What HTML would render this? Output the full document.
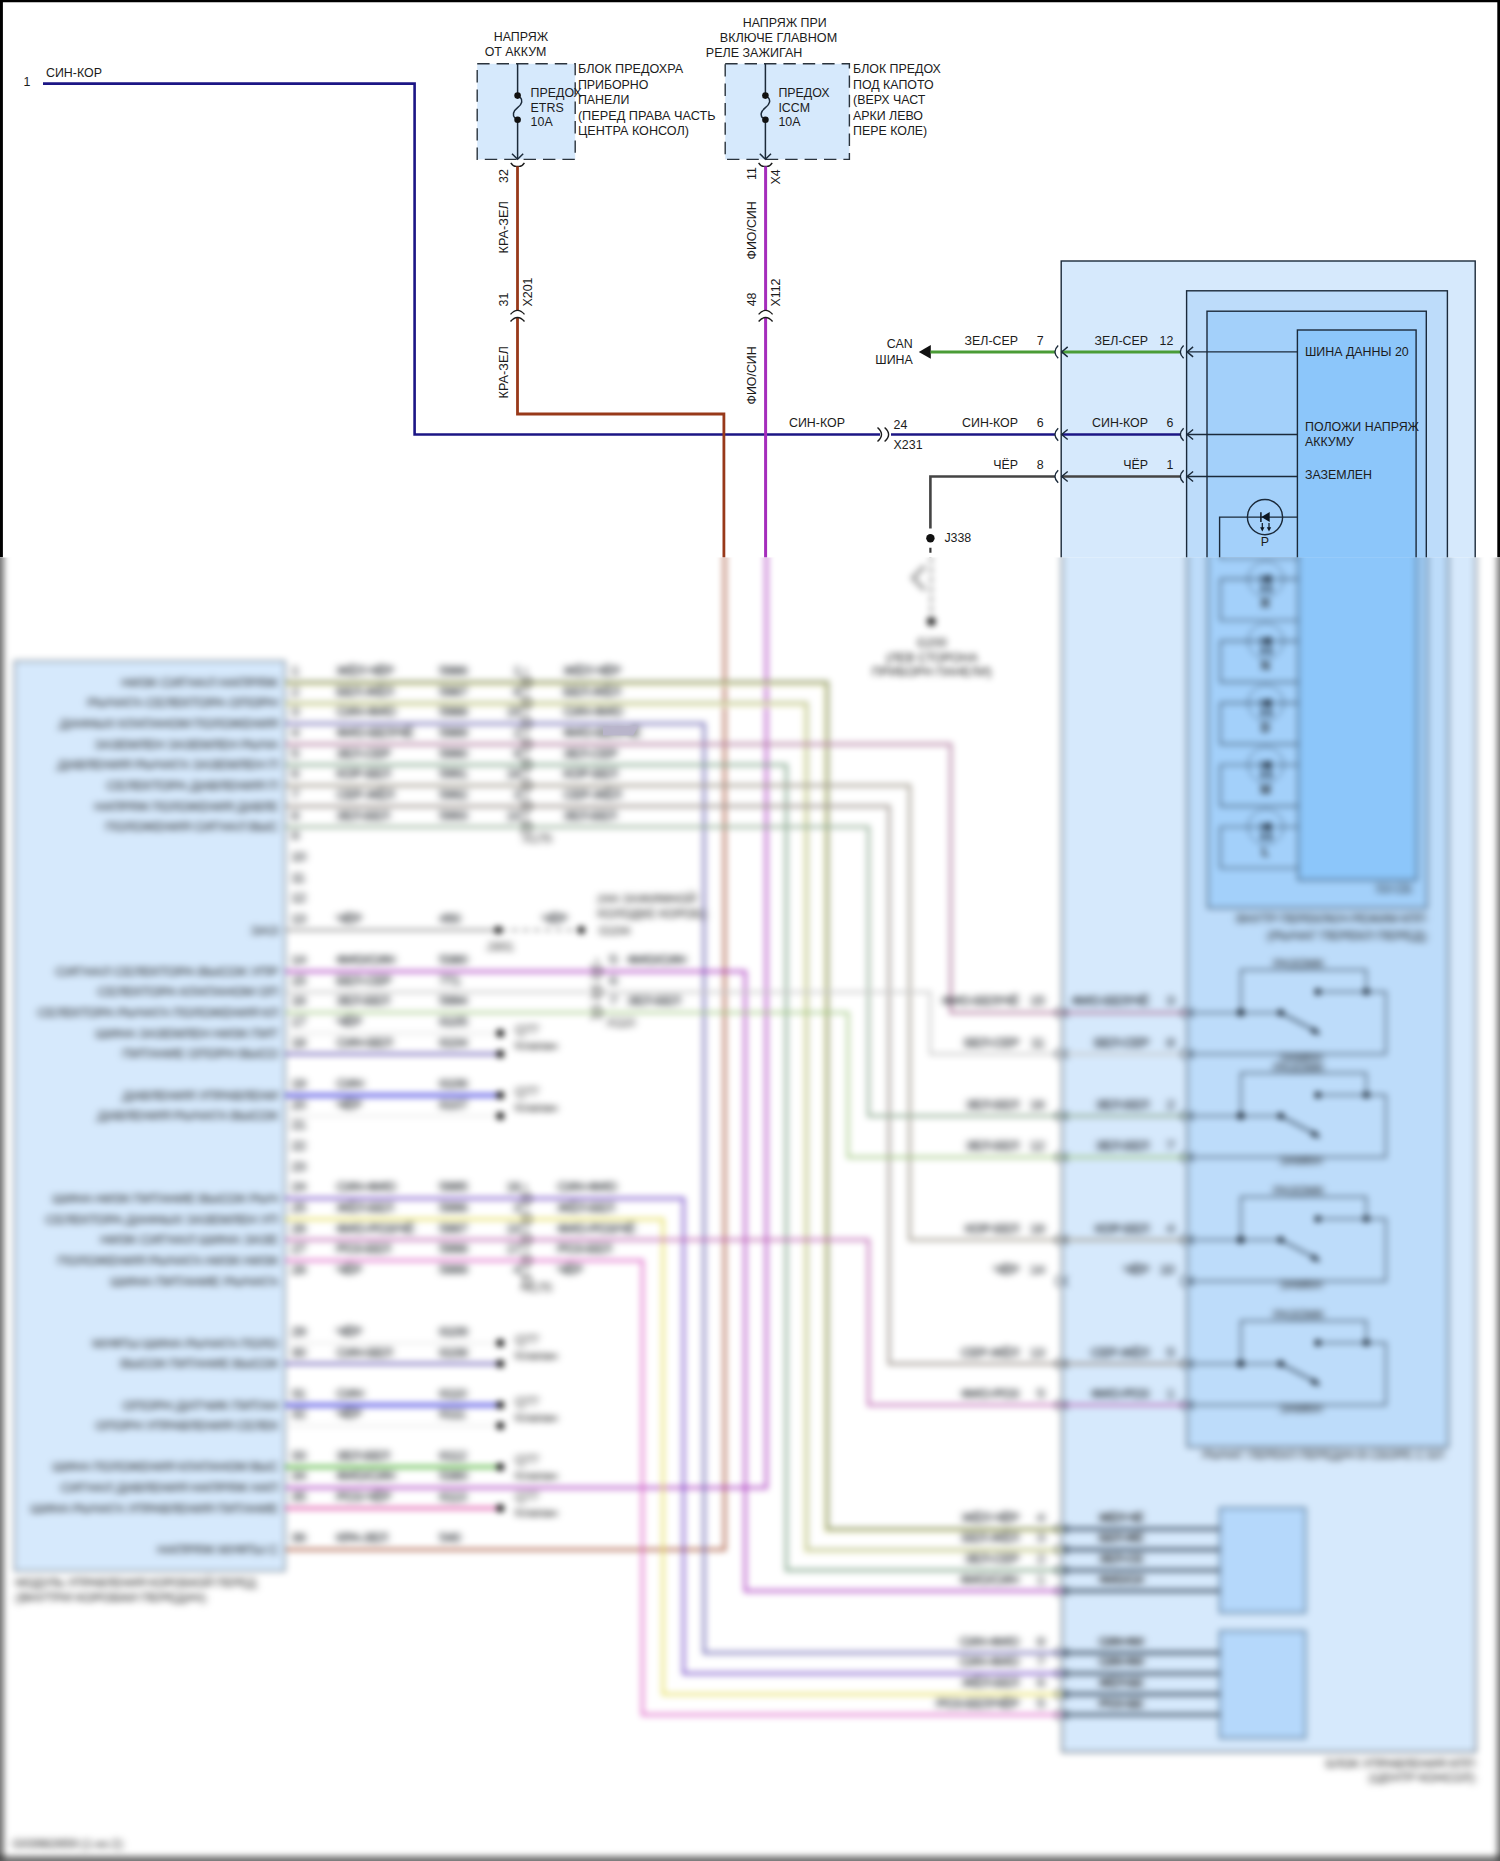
<!DOCTYPE html>
<html lang="ru">
<head>
<meta charset="utf-8">
<title>Схема</title>
<style>
html,body{margin:0;padding:0;background:#fff;}
svg{display:block;}
.lb{fill:#1c2026;stroke:#1c2026;stroke-width:.35px}
text{font-family:"Liberation Sans",Arial,sans-serif;font-size:12.4px;fill:#1c1c1c;}
</style>
</head>
<body>
<svg width="1500" height="1861" viewBox="0 0 1500 1861">
<defs>
<filter id="bl" filterUnits="userSpaceOnUse" x="-60" y="-60" width="1620" height="1981" color-interpolation-filters="sRGB"><feGaussianBlur stdDeviation="3.3"/></filter>
<filter id="tb" filterUnits="userSpaceOnUse" x="0" y="540" width="1500" height="1321" color-interpolation-filters="sRGB"><feGaussianBlur stdDeviation="2.4 1.2"/></filter>
<clipPath id="ct"><rect x="0" y="0" width="1500" height="557.6"/></clipPath>
<clipPath id="cb"><rect x="0" y="557.6" width="1500" height="1303.4"/></clipPath>
<g id="all">
<rect x="1061.2" y="261" width="414.0" height="1491" fill="#d6e9fc" fill-opacity="1" stroke="#1b2a3a" stroke-width="1.4"/>
<rect x="1186.6" y="290.8" width="260.8" height="1156.2" fill="#bddcfa" fill-opacity="1" stroke="#1b2a3a" stroke-width="1.4"/>
<rect x="1207" y="311.2" width="219.3" height="596.8" fill="#a3d0fa" fill-opacity="1" stroke="#1b2a3a" stroke-width="1.4"/>
<rect x="1297.4" y="330" width="118.7" height="550" fill="#8cc6fa" fill-opacity="1" stroke="#1b2a3a" stroke-width="1.4"/>
<text x="23.6" y="86.2">1</text>
<text x="46" y="76.6">СИН-КОР</text>
<path d="M43,83.6 L414.6,83.6 L414.6,434.5 L880,434.5" stroke="#1c1685" stroke-width="2.6" fill="none" stroke-linejoin="miter"/>
<path d="M891,434.5 L1055,434.5" stroke="#1c1685" stroke-width="2.6" fill="none" stroke-linejoin="miter"/>
<path d="M1062,434.5 L1180,434.5" stroke="#1c1685" stroke-width="2.6" fill="none" stroke-linejoin="miter"/>
<rect x="477.2" y="63.8" width="98.00000000000006" height="95.60000000000001" fill="#d6e9fc" fill-opacity="1" stroke="#2a333c" stroke-width="1.4" stroke-dasharray="12.4 7"/>
<path d="M517.6,63.8 L517.6,95.6" stroke="#1b2a3a" stroke-width="1.5" fill="none" stroke-linejoin="miter"/>
<path d="M517.6,119.6 L517.6,158.9" stroke="#1b2a3a" stroke-width="1.5" fill="none" stroke-linejoin="miter"/>
<path d="M520.2,97.3 C522.9,100 522.4,104 517.6,107.7 C512.8000000000001,111.4 512.3000000000001,115.4 515.0,118.1" stroke="#1b2a3a" stroke-width="1.5" fill="none"/>
<circle cx="517.6" cy="95.6" r="3.3" fill="#111"/>
<circle cx="517.6" cy="119.7" r="3.3" fill="#111"/>
<path d="M512.0,153.8 L517.6,159.3 L523.2,153.8" stroke="#1b2a3a" stroke-width="1.5" fill="none"/>
<path d="M510.8,162.8 Q513.1,166.4 516.1,166.4 L519.1,166.4 Q522.1,166.4 524.4,162.8" stroke="#1c1c1c" stroke-width="1.4" fill="none"/>
<text x="530.6" y="97">ПРЕДОХ</text>
<text x="530.6" y="112.2">ETRS</text>
<text x="530.6" y="126">10A</text>
<rect x="725.2" y="63.8" width="124.19999999999993" height="95.60000000000001" fill="#d6e9fc" fill-opacity="1" stroke="#2a333c" stroke-width="1.4" stroke-dasharray="12.4 7"/>
<path d="M765.4,63.8 L765.4,95.6" stroke="#1b2a3a" stroke-width="1.5" fill="none" stroke-linejoin="miter"/>
<path d="M765.4,119.6 L765.4,158.9" stroke="#1b2a3a" stroke-width="1.5" fill="none" stroke-linejoin="miter"/>
<path d="M768.0,97.3 C770.6999999999999,100 770.1999999999999,104 765.4,107.7 C760.6,111.4 760.1,115.4 762.8,118.1" stroke="#1b2a3a" stroke-width="1.5" fill="none"/>
<circle cx="765.4" cy="95.6" r="3.3" fill="#111"/>
<circle cx="765.4" cy="119.7" r="3.3" fill="#111"/>
<path d="M759.8,153.8 L765.4,159.3 L771.0,153.8" stroke="#1b2a3a" stroke-width="1.5" fill="none"/>
<path d="M758.6,162.8 Q760.9,166.4 763.9,166.4 L766.9,166.4 Q769.9,166.4 772.1999999999999,162.8" stroke="#1c1c1c" stroke-width="1.4" fill="none"/>
<text x="778.4" y="97">ПРЕДОХ</text>
<text x="778.4" y="112.2">ICCM</text>
<text x="778.4" y="126">10A</text>
<text x="493.8" y="40.8">НАПРЯЖ</text>
<text x="484.7" y="56.2">ОТ АККУМ</text>
<text x="577.9" y="73.1" textLength="105.3" lengthAdjust="spacingAndGlyphs">БЛОК ПРЕДОХРА</text>
<text x="577.9" y="88.6">ПРИБОРНО</text>
<text x="577.9" y="104.1">ПАНЕЛИ</text>
<text x="577.9" y="119.6" textLength="137.7" lengthAdjust="spacingAndGlyphs">(ПЕРЕД ПРАВА ЧАСТЬ</text>
<text x="577.9" y="135.1" textLength="111.1" lengthAdjust="spacingAndGlyphs">ЦЕНТРА КОНСОЛ)</text>
<text x="742.8" y="26.9">НАПРЯЖ ПРИ</text>
<text x="719.8" y="41.7" textLength="117.4" lengthAdjust="spacingAndGlyphs">ВКЛЮЧЕ ГЛАВНОМ</text>
<text x="705.8" y="57.3" textLength="96.5" lengthAdjust="spacingAndGlyphs">РЕЛЕ ЗАЖИГАН</text>
<text x="853" y="73.1">БЛОК ПРЕДОХ</text>
<text x="853" y="88.6">ПОД КАПОТО</text>
<text x="853" y="104.1">(ВЕРХ ЧАСТ</text>
<text x="853" y="119.6">АРКИ ЛЕВО</text>
<text x="853" y="135.1">ПЕРЕ КОЛЕ)</text>
<path d="M517.5,166.4 L517.5,311" stroke="#98391a" stroke-width="2.8" fill="none" stroke-linejoin="miter"/>
<path d="M517.5,317.6 L517.5,414 L723.9,414 L723.9,1549.6 L285,1549.6" stroke="#98391a" stroke-width="2.8" fill="none" stroke-linejoin="miter"/>
<path d="M510.5,314.4 Q517.5,306.4 524.5,314.4" stroke="#1c1c1c" stroke-width="1.4" fill="none"/>
<path d="M510.5,321.5 Q517.5,313.5 524.5,321.5" stroke="#1c1c1c" stroke-width="1.4" fill="none"/>
<text x="508.4" y="183" transform="rotate(-90 508.4 183)">32</text>
<text x="508.4" y="253.5" textLength="52.3" lengthAdjust="spacingAndGlyphs" transform="rotate(-90 508.4 253.5)">КРА-ЗЕЛ</text>
<text x="508.4" y="306.5" transform="rotate(-90 508.4 306.5)">31</text>
<text x="531.8" y="306.5" transform="rotate(-90 531.8 306.5)">X201</text>
<text x="508.4" y="398.5" textLength="52.3" lengthAdjust="spacingAndGlyphs" transform="rotate(-90 508.4 398.5)">КРА-ЗЕЛ</text>
<path d="M765.6,166.4 L765.6,311" stroke="#a52dbc" stroke-width="3.0" fill="none" stroke-linejoin="miter"/>
<path d="M765.6,317.6 L765.6,1487.65 L285,1487.65" stroke="#a52dbc" stroke-width="3.0" fill="none" stroke-linejoin="miter"/>
<path d="M758.6,314.4 Q765.6,306.4 772.6,314.4" stroke="#1c1c1c" stroke-width="1.4" fill="none"/>
<path d="M758.6,321.5 Q765.6,313.5 772.6,321.5" stroke="#1c1c1c" stroke-width="1.4" fill="none"/>
<text x="756.4" y="180" transform="rotate(-90 756.4 180)">11</text>
<text x="779.6" y="184.5" transform="rotate(-90 779.6 184.5)">X4</text>
<text x="756.4" y="259.5" transform="rotate(-90 756.4 259.5)">ФИО/СИН</text>
<text x="756.4" y="306.3" transform="rotate(-90 756.4 306.3)">48</text>
<text x="779.6" y="306.5" transform="rotate(-90 779.6 306.5)">X112</text>
<text x="756.4" y="404.5" transform="rotate(-90 756.4 404.5)">ФИО/СИН</text>
<text x="789" y="427">СИН-КОР</text>
<path d="M877.5,427.5 Q885.5,434.5 877.5,441.5" stroke="#1c1c1c" stroke-width="1.4" fill="none"/>
<path d="M884.6,427.5 Q892.6,434.5 884.6,441.5" stroke="#1c1c1c" stroke-width="1.4" fill="none"/>
<text x="893.6" y="428.6">24</text>
<text x="893.6" y="449">X231</text>
<text x="912.8" y="348.2" text-anchor="end">CAN</text>
<text x="912.8" y="363.8" text-anchor="end">ШИНА</text>
<path d="M918.8,351.9 L930.8,345.1 L930.8,358.7 Z" fill="#111"/>
<path d="M930.5,351.9 L1055,351.9" stroke="#4a9c36" stroke-width="3.0" fill="none" stroke-linejoin="miter"/>
<path d="M1062,351.9 L1180,351.9" stroke="#4a9c36" stroke-width="3.0" fill="none" stroke-linejoin="miter"/>
<path d="M1055,476.5 L930.4,476.5 L930.4,528.5" stroke="#444444" stroke-width="2.6" fill="none" stroke-linejoin="miter"/>
<path d="M1062,476.5 L1180,476.5" stroke="#444444" stroke-width="2.6" fill="none" stroke-linejoin="miter"/>
<circle cx="930.4" cy="538.2" r="4.2" fill="#111"/>
<text x="944.4" y="541.6">J338</text>
<path d="M930.4,547.8 L930.4,614" stroke="#3a3a3a" stroke-width="2.2" fill="none" stroke-linejoin="miter" stroke-dasharray="5 4.8"/>
<path d="M924,566 L912,578 L924,590" stroke="#888" stroke-width="4" fill="none"/>
<circle cx="930.5" cy="621.5" r="4.4" fill="#111"/>
<text x="931" y="646.5" text-anchor="middle">G200</text>
<text x="931" y="661.5" text-anchor="middle">(ЛЕВ СТОРОНА</text>
<text x="931" y="676" text-anchor="middle">ПРИБОРН ПАНЕЛИ)</text>
<text x="1018" y="344.5" text-anchor="end">ЗЕЛ-СЕР</text>
<text x="1043.6" y="344.5" text-anchor="end">7</text>
<text x="1148" y="344.5" text-anchor="end">ЗЕЛ-СЕР</text>
<text x="1173.4" y="344.5" text-anchor="end">12</text>
<path d="M1058.2,345.59999999999997 Q1051.7,351.9 1058.2,358.2" stroke="#1b2a3a" stroke-width="1.4" fill="none"/>
<path d="M1067.7,346.9 L1061.7,351.9 L1067.7,356.9" stroke="#1b2a3a" stroke-width="1.4" fill="none"/>
<path d="M1183.6,345.59999999999997 Q1177.1,351.9 1183.6,358.2" stroke="#1b2a3a" stroke-width="1.4" fill="none"/>
<path d="M1193.1,346.9 L1187.1,351.9 L1193.1,356.9" stroke="#1b2a3a" stroke-width="1.4" fill="none"/>
<path d="M1187.5,351.9 L1297.4,351.9" stroke="#1b2a3a" stroke-width="1.4" fill="none" stroke-linejoin="miter"/>
<text x="1018" y="427.1" text-anchor="end">СИН-КОР</text>
<text x="1043.6" y="427.1" text-anchor="end">6</text>
<text x="1148" y="427.1" text-anchor="end">СИН-КОР</text>
<text x="1173.4" y="427.1" text-anchor="end">6</text>
<path d="M1058.2,428.2 Q1051.7,434.5 1058.2,440.8" stroke="#1b2a3a" stroke-width="1.4" fill="none"/>
<path d="M1067.7,429.5 L1061.7,434.5 L1067.7,439.5" stroke="#1b2a3a" stroke-width="1.4" fill="none"/>
<path d="M1183.6,428.2 Q1177.1,434.5 1183.6,440.8" stroke="#1b2a3a" stroke-width="1.4" fill="none"/>
<path d="M1193.1,429.5 L1187.1,434.5 L1193.1,439.5" stroke="#1b2a3a" stroke-width="1.4" fill="none"/>
<path d="M1187.5,434.5 L1297.4,434.5" stroke="#1b2a3a" stroke-width="1.4" fill="none" stroke-linejoin="miter"/>
<text x="1018" y="469.1" text-anchor="end">ЧЁР</text>
<text x="1043.6" y="469.1" text-anchor="end">8</text>
<text x="1148" y="469.1" text-anchor="end">ЧЁР</text>
<text x="1173.4" y="469.1" text-anchor="end">1</text>
<path d="M1058.2,470.2 Q1051.7,476.5 1058.2,482.8" stroke="#1b2a3a" stroke-width="1.4" fill="none"/>
<path d="M1067.7,471.5 L1061.7,476.5 L1067.7,481.5" stroke="#1b2a3a" stroke-width="1.4" fill="none"/>
<path d="M1183.6,470.2 Q1177.1,476.5 1183.6,482.8" stroke="#1b2a3a" stroke-width="1.4" fill="none"/>
<path d="M1193.1,471.5 L1187.1,476.5 L1193.1,481.5" stroke="#1b2a3a" stroke-width="1.4" fill="none"/>
<path d="M1187.5,476.5 L1297.4,476.5" stroke="#1b2a3a" stroke-width="1.4" fill="none" stroke-linejoin="miter"/>
<text x="1305" y="355.5">ШИНА ДАННЫ 20</text>
<text x="1305" y="430.6">ПОЛОЖИ НАПРЯЖ</text>
<text x="1305" y="446.2">АККУМУ</text>
<text x="1305" y="479.4">ЗАЗЕМЛЕН</text>
<path d="M1297.4,517.1 L1219.6,517.1 L1219.6,558.4 L1297.4,558.4" stroke="#1b2a3a" stroke-width="1.4" fill="none" stroke-linejoin="miter"/>
<circle cx="1265" cy="517.1" r="17.6" fill="none" stroke="#1b2a3a" stroke-width="1.4"/>
<path d="M1260.9,512.2 L1260.9,522.0" stroke="#0c1622" stroke-width="1.5" fill="none" stroke-linejoin="miter"/>
<path d="M1261.4,517.1 L1269.7,512.1 L1269.7,522.1 Z" fill="#0c1622"/>
<path d="M1262.3,523.1 L1262.3,528.1" stroke="#0c1622" stroke-width="1.2" fill="none" stroke-linejoin="miter"/>
<path d="M1260.1,527.3000000000001 L1264.5,527.3000000000001 L1262.3,531.5 Z" fill="#0c1622"/>
<path d="M1269,523.1 L1269,528.1" stroke="#0c1622" stroke-width="1.2" fill="none" stroke-linejoin="miter"/>
<path d="M1266.8,527.3000000000001 L1271.2,527.3000000000001 L1269,531.5 Z" fill="#0c1622"/>
<text x="1264.8" y="546.3" text-anchor="middle">P</text>
<path d="M1297.4,579.05 L1219.6,579.05 L1219.6,620.35 L1297.4,620.35" stroke="#1b2a3a" stroke-width="1.4" fill="none" stroke-linejoin="miter"/>
<circle cx="1265" cy="579.05" r="17.6" fill="none" stroke="#1b2a3a" stroke-width="0.9"/>
<path d="M1260.9,574.15 L1260.9,583.9499999999999" stroke="#0c1622" stroke-width="1.5" fill="none" stroke-linejoin="miter"/>
<path d="M1261.4,579.05 L1269.7,574.05 L1269.7,584.05 Z" fill="#0c1622"/>
<path d="M1262.3,585.05 L1262.3,590.05" stroke="#0c1622" stroke-width="3.2" fill="none" stroke-linejoin="miter"/>
<path d="M1260.1,589.25 L1264.5,589.25 L1262.3,593.4499999999999 Z" fill="#0c1622"/>
<path d="M1269,585.05 L1269,590.05" stroke="#0c1622" stroke-width="3.2" fill="none" stroke-linejoin="miter"/>
<path d="M1266.8,589.25 L1271.2,589.25 L1269,593.4499999999999 Z" fill="#0c1622"/>
<text x="1264.8" y="608.2" text-anchor="middle" font-weight="bold" font-size="14">R</text>
<path d="M1297.4,641.0 L1219.6,641.0 L1219.6,682.3 L1297.4,682.3" stroke="#1b2a3a" stroke-width="1.4" fill="none" stroke-linejoin="miter"/>
<circle cx="1265" cy="641.0" r="17.6" fill="none" stroke="#1b2a3a" stroke-width="0.9"/>
<path d="M1260.9,636.1 L1260.9,645.9" stroke="#0c1622" stroke-width="1.5" fill="none" stroke-linejoin="miter"/>
<path d="M1261.4,641.0 L1269.7,636.0 L1269.7,646.0 Z" fill="#0c1622"/>
<path d="M1262.3,647.0 L1262.3,652.0" stroke="#0c1622" stroke-width="3.2" fill="none" stroke-linejoin="miter"/>
<path d="M1260.1,651.2 L1264.5,651.2 L1262.3,655.4 Z" fill="#0c1622"/>
<path d="M1269,647.0 L1269,652.0" stroke="#0c1622" stroke-width="3.2" fill="none" stroke-linejoin="miter"/>
<path d="M1266.8,651.2 L1271.2,651.2 L1269,655.4 Z" fill="#0c1622"/>
<text x="1264.8" y="670.2" text-anchor="middle" font-weight="bold" font-size="14">N</text>
<path d="M1297.4,702.95 L1219.6,702.95 L1219.6,744.25 L1297.4,744.25" stroke="#1b2a3a" stroke-width="1.4" fill="none" stroke-linejoin="miter"/>
<circle cx="1265" cy="702.95" r="17.6" fill="none" stroke="#1b2a3a" stroke-width="0.9"/>
<path d="M1260.9,698.0500000000001 L1260.9,707.85" stroke="#0c1622" stroke-width="1.5" fill="none" stroke-linejoin="miter"/>
<path d="M1261.4,702.95 L1269.7,697.95 L1269.7,707.95 Z" fill="#0c1622"/>
<path d="M1262.3,708.95 L1262.3,713.95" stroke="#0c1622" stroke-width="3.2" fill="none" stroke-linejoin="miter"/>
<path d="M1260.1,713.1500000000001 L1264.5,713.1500000000001 L1262.3,717.35 Z" fill="#0c1622"/>
<path d="M1269,708.95 L1269,713.95" stroke="#0c1622" stroke-width="3.2" fill="none" stroke-linejoin="miter"/>
<path d="M1266.8,713.1500000000001 L1271.2,713.1500000000001 L1269,717.35 Z" fill="#0c1622"/>
<text x="1264.8" y="732.2" text-anchor="middle" font-weight="bold" font-size="14">D</text>
<path d="M1297.4,764.9 L1219.6,764.9 L1219.6,806.2 L1297.4,806.2" stroke="#1b2a3a" stroke-width="1.4" fill="none" stroke-linejoin="miter"/>
<circle cx="1265" cy="764.9" r="17.6" fill="none" stroke="#1b2a3a" stroke-width="0.9"/>
<path d="M1260.9,760.0 L1260.9,769.8" stroke="#0c1622" stroke-width="1.5" fill="none" stroke-linejoin="miter"/>
<path d="M1261.4,764.9 L1269.7,759.9 L1269.7,769.9 Z" fill="#0c1622"/>
<path d="M1262.3,770.9 L1262.3,775.9" stroke="#0c1622" stroke-width="3.2" fill="none" stroke-linejoin="miter"/>
<path d="M1260.1,775.1 L1264.5,775.1 L1262.3,779.3 Z" fill="#0c1622"/>
<path d="M1269,770.9 L1269,775.9" stroke="#0c1622" stroke-width="3.2" fill="none" stroke-linejoin="miter"/>
<path d="M1266.8,775.1 L1271.2,775.1 L1269,779.3 Z" fill="#0c1622"/>
<text x="1264.8" y="794.1" text-anchor="middle" font-weight="bold" font-size="14">M</text>
<path d="M1297.4,826.85 L1219.6,826.85 L1219.6,868.15 L1297.4,868.15" stroke="#1b2a3a" stroke-width="1.4" fill="none" stroke-linejoin="miter"/>
<circle cx="1265" cy="826.85" r="17.6" fill="none" stroke="#1b2a3a" stroke-width="0.9"/>
<path d="M1260.9,821.95 L1260.9,831.75" stroke="#0c1622" stroke-width="1.5" fill="none" stroke-linejoin="miter"/>
<path d="M1261.4,826.85 L1269.7,821.85 L1269.7,831.85 Z" fill="#0c1622"/>
<path d="M1262.3,832.85 L1262.3,837.85" stroke="#0c1622" stroke-width="3.2" fill="none" stroke-linejoin="miter"/>
<path d="M1260.1,837.0500000000001 L1264.5,837.0500000000001 L1262.3,841.25 Z" fill="#0c1622"/>
<path d="M1269,832.85 L1269,837.85" stroke="#0c1622" stroke-width="3.2" fill="none" stroke-linejoin="miter"/>
<path d="M1266.8,837.0500000000001 L1271.2,837.0500000000001 L1269,841.25 Z" fill="#0c1622"/>
<text x="1264.8" y="856.1" text-anchor="middle" font-weight="bold" font-size="14">L</text>
<rect x="13.7" y="661" width="270.5" height="910" fill="#d6e9fc" fill-opacity="1" stroke="#5a6a7a" stroke-width="1.6"/>
<path d="M284.2,683.8 L825.15,683.8 L825.15,1530.45 L1061.2,1530.45" stroke="#f4f4cc" stroke-width="5.5" fill="none" stroke-linejoin="miter"/>
<path d="M284.2,682.3 L826.65,682.3 L826.65,1528.95 L1061.2,1528.95" stroke="#8a9262" stroke-width="3.4" fill="none" stroke-linejoin="miter"/>
<path d="M519.5,675.3 Q527.5,682.3 519.5,689.3" stroke="#1c1c1c" stroke-width="1.4" fill="none"/>
<path d="M526.6,675.3 Q534.6,682.3 526.6,689.3" stroke="#1c1c1c" stroke-width="1.4" fill="none"/>
<path d="M284.2,704.45 L804.6,704.45 L804.6,1551.1 L1061.2,1551.1" stroke="#f6f6d8" stroke-width="5.5" fill="none" stroke-linejoin="miter"/>
<path d="M284.2,702.95 L806.1,702.95 L806.1,1549.6 L1061.2,1549.6" stroke="#b9bf89" stroke-width="3.4" fill="none" stroke-linejoin="miter"/>
<path d="M519.5,695.95 Q527.5,702.95 519.5,709.95" stroke="#1c1c1c" stroke-width="1.4" fill="none"/>
<path d="M526.6,695.95 Q534.6,702.95 526.6,709.95" stroke="#1c1c1c" stroke-width="1.4" fill="none"/>
<path d="M284.2,723.6 L703.35,723.6 L703.35,1652.85 L1061.2,1652.85" stroke="#6e68b3" stroke-width="3.4" fill="none" stroke-linejoin="miter"/>
<path d="M519.5,716.6 Q527.5,723.6 519.5,730.6" stroke="#1c1c1c" stroke-width="1.4" fill="none"/>
<path d="M526.6,716.6 Q534.6,723.6 526.6,730.6" stroke="#1c1c1c" stroke-width="1.4" fill="none"/>
<path d="M284.2,744.25 L949.95,744.25 L949.95,1012.7 L1186.6,1012.7" stroke="#b380a1" stroke-width="3.4" fill="none" stroke-linejoin="miter"/>
<path d="M519.5,737.25 Q527.5,744.25 519.5,751.25" stroke="#1c1c1c" stroke-width="1.4" fill="none"/>
<path d="M526.6,737.25 Q534.6,744.25 526.6,751.25" stroke="#1c1c1c" stroke-width="1.4" fill="none"/>
<path d="M284.2,764.9 L785.55,764.9 L785.55,1570.25 L1061.2,1570.25" stroke="#80a489" stroke-width="3.4" fill="none" stroke-linejoin="miter"/>
<path d="M519.5,757.9 Q527.5,764.9 519.5,771.9" stroke="#1c1c1c" stroke-width="1.4" fill="none"/>
<path d="M526.6,757.9 Q534.6,764.9 526.6,771.9" stroke="#1c1c1c" stroke-width="1.4" fill="none"/>
<path d="M284.2,785.55 L908.85,785.55 L908.85,1239.85 L1186.6,1239.85" stroke="#a19b8f" stroke-width="3.4" fill="none" stroke-linejoin="miter"/>
<path d="M519.5,778.55 Q527.5,785.55 519.5,792.55" stroke="#1c1c1c" stroke-width="1.4" fill="none"/>
<path d="M526.6,778.55 Q534.6,785.55 526.6,792.55" stroke="#1c1c1c" stroke-width="1.4" fill="none"/>
<path d="M284.2,806.2 L888.3,806.2 L888.3,1363.75 L1186.6,1363.75" stroke="#9e958f" stroke-width="3.4" fill="none" stroke-linejoin="miter"/>
<path d="M519.5,799.2 Q527.5,806.2 519.5,813.2" stroke="#1c1c1c" stroke-width="1.4" fill="none"/>
<path d="M526.6,799.2 Q534.6,806.2 526.6,813.2" stroke="#1c1c1c" stroke-width="1.4" fill="none"/>
<path d="M284.2,826.85 L867.75,826.85 L867.75,1115.95 L1186.6,1115.95" stroke="#92ad95" stroke-width="3.4" fill="none" stroke-linejoin="miter"/>
<path d="M519.5,819.85 Q527.5,826.85 519.5,833.85" stroke="#1c1c1c" stroke-width="1.4" fill="none"/>
<path d="M526.6,819.85 Q534.6,826.85 526.6,833.85" stroke="#1c1c1c" stroke-width="1.4" fill="none"/>
<path d="M525.5,668 L525.5,832" stroke="#333" stroke-width="1.5" fill="none" stroke-linejoin="miter" stroke-dasharray="5 4"/>
<path d="M284.2,930.1 L496.5,930.1" stroke="#8a8a8a" stroke-width="2.8" fill="none" stroke-linejoin="miter"/>
<path d="M500,930.1 L580,930.1" stroke="#555" stroke-width="1.6" fill="none" stroke-linejoin="miter" stroke-dasharray="6 5"/>
<circle cx="497.5" cy="930.1" r="3.8" fill="#111"/>
<circle cx="580.5" cy="930.1" r="3.8" fill="#111"/>
<path d="M284.2,971.4 L744.45,971.4 L744.45,1590.9 L1061.2,1590.9" stroke="#a52dbc" stroke-width="3.0" fill="none" stroke-linejoin="miter"/>
<path d="M284.2,992.05 L929.4,992.05 L929.4,1054.0 L1186.6,1054.0" stroke="#c4c4c4" stroke-width="2.8" fill="none" stroke-linejoin="miter"/>
<path d="M284.2,1012.7 L847.2,1012.7 L847.2,1157.25 L1186.6,1157.25" stroke="#9ec57d" stroke-width="2.8" fill="none" stroke-linejoin="miter"/>
<path d="M284.2,1033.35 L496,1033.35" stroke="#dddddd" stroke-width="2" fill="none" stroke-linejoin="miter"/>
<path d="M284.2,1054.0 L496,1054.0" stroke="#5546aa" stroke-width="2.8" fill="none" stroke-linejoin="miter"/>
<path d="M590,964.4 Q598,971.4 590,978.4" stroke="#1c1c1c" stroke-width="1.4" fill="none"/>
<path d="M597.1,964.4 Q605.1,971.4 597.1,978.4" stroke="#1c1c1c" stroke-width="1.4" fill="none"/>
<path d="M590,985.05 Q598,992.05 590,999.05" stroke="#1c1c1c" stroke-width="1.4" fill="none"/>
<path d="M597.1,985.05 Q605.1,992.05 597.1,999.05" stroke="#1c1c1c" stroke-width="1.4" fill="none"/>
<path d="M590,1005.7 Q598,1012.7 590,1019.7" stroke="#1c1c1c" stroke-width="1.4" fill="none"/>
<path d="M597.1,1005.7 Q605.1,1012.7 597.1,1019.7" stroke="#1c1c1c" stroke-width="1.4" fill="none"/>
<path d="M596,958 L596,1016" stroke="#333" stroke-width="1.5" fill="none" stroke-linejoin="miter" stroke-dasharray="5 4"/>
<circle cx="499.5" cy="1033.35" r="4" fill="#111"/>
<circle cx="499.5" cy="1054.0" r="4" fill="#111"/>
<path d="M284.2,1095.3 L496,1095.3" stroke="#3b39e1" stroke-width="4.2" fill="none" stroke-linejoin="miter"/>
<path d="M284.2,1115.95 L496,1115.95" stroke="#e4e4e4" stroke-width="2" fill="none" stroke-linejoin="miter"/>
<circle cx="499.5" cy="1095.3" r="4" fill="#111"/>
<circle cx="499.5" cy="1115.95" r="4" fill="#111"/>
<path d="M284.2,1198.55 L682.8,1198.55 L682.8,1673.5 L1061.2,1673.5" stroke="#6a40c4" stroke-width="3.0" fill="none" stroke-linejoin="miter"/>
<path d="M519.5,1191.55 Q527.5,1198.55 519.5,1205.55" stroke="#1c1c1c" stroke-width="1.4" fill="none"/>
<path d="M526.6,1191.55 Q534.6,1198.55 526.6,1205.55" stroke="#1c1c1c" stroke-width="1.4" fill="none"/>
<path d="M284.2,1219.2 L662.25,1219.2 L662.25,1694.15 L1061.2,1694.15" stroke="#e4dc50" stroke-width="3.0" fill="none" stroke-linejoin="miter"/>
<path d="M519.5,1212.2 Q527.5,1219.2 519.5,1226.2" stroke="#1c1c1c" stroke-width="1.4" fill="none"/>
<path d="M526.6,1212.2 Q534.6,1219.2 526.6,1226.2" stroke="#1c1c1c" stroke-width="1.4" fill="none"/>
<path d="M284.2,1239.85 L867.75,1239.85 L867.75,1405.05 L1186.6,1405.05" stroke="#bc60b0" stroke-width="3.0" fill="none" stroke-linejoin="miter"/>
<path d="M519.5,1232.85 Q527.5,1239.85 519.5,1246.85" stroke="#1c1c1c" stroke-width="1.4" fill="none"/>
<path d="M526.6,1232.85 Q534.6,1239.85 526.6,1246.85" stroke="#1c1c1c" stroke-width="1.4" fill="none"/>
<path d="M284.2,1260.5 L641.7,1260.5 L641.7,1714.8 L1061.2,1714.8" stroke="#dc5cc4" stroke-width="3.0" fill="none" stroke-linejoin="miter"/>
<path d="M519.5,1253.5 Q527.5,1260.5 519.5,1267.5" stroke="#1c1c1c" stroke-width="1.4" fill="none"/>
<path d="M526.6,1253.5 Q534.6,1260.5 526.6,1267.5" stroke="#1c1c1c" stroke-width="1.4" fill="none"/>
<path d="M519.5,1274.15 Q527.5,1281.15 519.5,1288.15" stroke="#1c1c1c" stroke-width="1.4" fill="none"/>
<path d="M526.6,1274.15 Q534.6,1281.15 526.6,1288.15" stroke="#1c1c1c" stroke-width="1.4" fill="none"/>
<path d="M525.5,1184 L525.5,1280" stroke="#333" stroke-width="1.5" fill="none" stroke-linejoin="miter" stroke-dasharray="5 4"/>
<path d="M284.2,1343.1 L496,1343.1" stroke="#e2e2e2" stroke-width="2" fill="none" stroke-linejoin="miter"/>
<path d="M284.2,1363.75 L496,1363.75" stroke="#5546aa" stroke-width="2.8" fill="none" stroke-linejoin="miter"/>
<circle cx="499.5" cy="1343.1" r="4" fill="#111"/>
<circle cx="499.5" cy="1363.75" r="4" fill="#111"/>
<path d="M284.2,1405.05 L496,1405.05" stroke="#3b39e1" stroke-width="4.2" fill="none" stroke-linejoin="miter"/>
<path d="M284.2,1425.7 L496,1425.7" stroke="#e4e4e4" stroke-width="2" fill="none" stroke-linejoin="miter"/>
<circle cx="499.5" cy="1405.05" r="4" fill="#111"/>
<circle cx="499.5" cy="1425.7" r="4" fill="#111"/>
<path d="M284.2,1467.0 L496,1467.0" stroke="#1fa100" stroke-width="3" fill="none" stroke-linejoin="miter"/>
<path d="M284.2,1508.3 L496,1508.3" stroke="#d72c95" stroke-width="3" fill="none" stroke-linejoin="miter"/>
<circle cx="499.5" cy="1467.0" r="4" fill="#111"/>
<circle cx="499.5" cy="1508.3" r="4" fill="#111"/>
<path d="M1058.2,1006.4000000000001 Q1051.7,1012.7 1058.2,1019.0" stroke="#1b2a3a" stroke-width="1.4" fill="none"/>
<path d="M1067.7,1007.7 L1061.7,1012.7 L1067.7,1017.7" stroke="#1b2a3a" stroke-width="1.4" fill="none"/>
<path d="M1183.6,1006.4000000000001 Q1177.1,1012.7 1183.6,1019.0" stroke="#1b2a3a" stroke-width="1.4" fill="none"/>
<path d="M1193.1,1007.7 L1187.1,1012.7 L1193.1,1017.7" stroke="#1b2a3a" stroke-width="1.4" fill="none"/>
<path d="M1058.2,1047.7 Q1051.7,1054.0 1058.2,1060.3" stroke="#1b2a3a" stroke-width="1.4" fill="none"/>
<path d="M1067.7,1049.0 L1061.7,1054.0 L1067.7,1059.0" stroke="#1b2a3a" stroke-width="1.4" fill="none"/>
<path d="M1183.6,1047.7 Q1177.1,1054.0 1183.6,1060.3" stroke="#1b2a3a" stroke-width="1.4" fill="none"/>
<path d="M1193.1,1049.0 L1187.1,1054.0 L1193.1,1059.0" stroke="#1b2a3a" stroke-width="1.4" fill="none"/>
<path d="M1058.2,1109.65 Q1051.7,1115.95 1058.2,1122.25" stroke="#1b2a3a" stroke-width="1.4" fill="none"/>
<path d="M1067.7,1110.95 L1061.7,1115.95 L1067.7,1120.95" stroke="#1b2a3a" stroke-width="1.4" fill="none"/>
<path d="M1183.6,1109.65 Q1177.1,1115.95 1183.6,1122.25" stroke="#1b2a3a" stroke-width="1.4" fill="none"/>
<path d="M1193.1,1110.95 L1187.1,1115.95 L1193.1,1120.95" stroke="#1b2a3a" stroke-width="1.4" fill="none"/>
<path d="M1058.2,1150.95 Q1051.7,1157.25 1058.2,1163.55" stroke="#1b2a3a" stroke-width="1.4" fill="none"/>
<path d="M1067.7,1152.25 L1061.7,1157.25 L1067.7,1162.25" stroke="#1b2a3a" stroke-width="1.4" fill="none"/>
<path d="M1183.6,1150.95 Q1177.1,1157.25 1183.6,1163.55" stroke="#1b2a3a" stroke-width="1.4" fill="none"/>
<path d="M1193.1,1152.25 L1187.1,1157.25 L1193.1,1162.25" stroke="#1b2a3a" stroke-width="1.4" fill="none"/>
<path d="M1058.2,1233.55 Q1051.7,1239.85 1058.2,1246.1499999999999" stroke="#1b2a3a" stroke-width="1.4" fill="none"/>
<path d="M1067.7,1234.85 L1061.7,1239.85 L1067.7,1244.85" stroke="#1b2a3a" stroke-width="1.4" fill="none"/>
<path d="M1183.6,1233.55 Q1177.1,1239.85 1183.6,1246.1499999999999" stroke="#1b2a3a" stroke-width="1.4" fill="none"/>
<path d="M1193.1,1234.85 L1187.1,1239.85 L1193.1,1244.85" stroke="#1b2a3a" stroke-width="1.4" fill="none"/>
<path d="M1058.2,1274.8500000000001 Q1051.7,1281.15 1058.2,1287.45" stroke="#1b2a3a" stroke-width="1.4" fill="none"/>
<path d="M1067.7,1276.15 L1061.7,1281.15 L1067.7,1286.15" stroke="#1b2a3a" stroke-width="1.4" fill="none"/>
<path d="M1183.6,1274.8500000000001 Q1177.1,1281.15 1183.6,1287.45" stroke="#1b2a3a" stroke-width="1.4" fill="none"/>
<path d="M1193.1,1276.15 L1187.1,1281.15 L1193.1,1286.15" stroke="#1b2a3a" stroke-width="1.4" fill="none"/>
<path d="M1058.2,1357.45 Q1051.7,1363.75 1058.2,1370.05" stroke="#1b2a3a" stroke-width="1.4" fill="none"/>
<path d="M1067.7,1358.75 L1061.7,1363.75 L1067.7,1368.75" stroke="#1b2a3a" stroke-width="1.4" fill="none"/>
<path d="M1183.6,1357.45 Q1177.1,1363.75 1183.6,1370.05" stroke="#1b2a3a" stroke-width="1.4" fill="none"/>
<path d="M1193.1,1358.75 L1187.1,1363.75 L1193.1,1368.75" stroke="#1b2a3a" stroke-width="1.4" fill="none"/>
<path d="M1058.2,1398.75 Q1051.7,1405.05 1058.2,1411.35" stroke="#1b2a3a" stroke-width="1.4" fill="none"/>
<path d="M1067.7,1400.05 L1061.7,1405.05 L1067.7,1410.05" stroke="#1b2a3a" stroke-width="1.4" fill="none"/>
<path d="M1183.6,1398.75 Q1177.1,1405.05 1183.6,1411.35" stroke="#1b2a3a" stroke-width="1.4" fill="none"/>
<path d="M1193.1,1400.05 L1187.1,1405.05 L1193.1,1410.05" stroke="#1b2a3a" stroke-width="1.4" fill="none"/>
<path d="M1187.6,1012.7 L1280,1012.7" stroke="#1b2a3a" stroke-width="1.5" fill="none" stroke-linejoin="miter"/>
<path d="M1280,1012.7 L1318,1032.7" stroke="#1b2a3a" stroke-width="2.2" fill="none" stroke-linejoin="miter"/>
<circle cx="1240" cy="1012.7" r="3.6" fill="#15202c"/>
<circle cx="1280" cy="1012.7" r="3.2" fill="#15202c"/>
<path d="M1313,1026.7 L1320,1034.7 L1310,1032.7 Z" fill="#15202c"/>
<path d="M1240,1012.7 L1240,969.7 L1365.5,969.7 L1365.5,991.7" stroke="#1b2a3a" stroke-width="1.5" fill="none" stroke-linejoin="miter"/>
<circle cx="1317" cy="991.7" r="3.2" fill="#15202c"/>
<circle cx="1365.5" cy="991.7" r="3.2" fill="#15202c"/>
<path d="M1317,991.7 L1385,991.7 L1385,1054.0 L1187.6,1054.0" stroke="#1b2a3a" stroke-width="1.5" fill="none" stroke-linejoin="miter"/>
<path d="M1187.6,1115.95 L1280,1115.95" stroke="#1b2a3a" stroke-width="1.5" fill="none" stroke-linejoin="miter"/>
<path d="M1280,1115.95 L1318,1135.95" stroke="#1b2a3a" stroke-width="2.2" fill="none" stroke-linejoin="miter"/>
<circle cx="1240" cy="1115.95" r="3.6" fill="#15202c"/>
<circle cx="1280" cy="1115.95" r="3.2" fill="#15202c"/>
<path d="M1313,1129.95 L1320,1137.95 L1310,1135.95 Z" fill="#15202c"/>
<path d="M1240,1115.95 L1240,1072.95 L1365.5,1072.95 L1365.5,1094.95" stroke="#1b2a3a" stroke-width="1.5" fill="none" stroke-linejoin="miter"/>
<circle cx="1317" cy="1094.95" r="3.2" fill="#15202c"/>
<circle cx="1365.5" cy="1094.95" r="3.2" fill="#15202c"/>
<path d="M1317,1094.95 L1385,1094.95 L1385,1157.25 L1187.6,1157.25" stroke="#1b2a3a" stroke-width="1.5" fill="none" stroke-linejoin="miter"/>
<path d="M1187.6,1239.85 L1280,1239.85" stroke="#1b2a3a" stroke-width="1.5" fill="none" stroke-linejoin="miter"/>
<path d="M1280,1239.85 L1318,1259.85" stroke="#1b2a3a" stroke-width="2.2" fill="none" stroke-linejoin="miter"/>
<circle cx="1240" cy="1239.85" r="3.6" fill="#15202c"/>
<circle cx="1280" cy="1239.85" r="3.2" fill="#15202c"/>
<path d="M1313,1253.85 L1320,1261.85 L1310,1259.85 Z" fill="#15202c"/>
<path d="M1240,1239.85 L1240,1196.85 L1365.5,1196.85 L1365.5,1218.85" stroke="#1b2a3a" stroke-width="1.5" fill="none" stroke-linejoin="miter"/>
<circle cx="1317" cy="1218.85" r="3.2" fill="#15202c"/>
<circle cx="1365.5" cy="1218.85" r="3.2" fill="#15202c"/>
<path d="M1317,1218.85 L1385,1218.85 L1385,1281.15 L1187.6,1281.15" stroke="#1b2a3a" stroke-width="1.5" fill="none" stroke-linejoin="miter"/>
<path d="M1187.6,1363.75 L1280,1363.75" stroke="#1b2a3a" stroke-width="1.5" fill="none" stroke-linejoin="miter"/>
<path d="M1280,1363.75 L1318,1383.75" stroke="#1b2a3a" stroke-width="2.2" fill="none" stroke-linejoin="miter"/>
<circle cx="1240" cy="1363.75" r="3.6" fill="#15202c"/>
<circle cx="1280" cy="1363.75" r="3.2" fill="#15202c"/>
<path d="M1313,1377.75 L1320,1385.75 L1310,1383.75 Z" fill="#15202c"/>
<path d="M1240,1363.75 L1240,1320.75 L1365.5,1320.75 L1365.5,1342.75" stroke="#1b2a3a" stroke-width="1.5" fill="none" stroke-linejoin="miter"/>
<circle cx="1317" cy="1342.75" r="3.2" fill="#15202c"/>
<circle cx="1365.5" cy="1342.75" r="3.2" fill="#15202c"/>
<path d="M1317,1342.75 L1385,1342.75 L1385,1405.05 L1187.6,1405.05" stroke="#1b2a3a" stroke-width="1.5" fill="none" stroke-linejoin="miter"/>
<rect x="1219" y="1508" width="85.6" height="104.6" fill="#b5d8fb" fill-opacity="1" stroke="#5f7f9f" stroke-width="2.4"/>
<rect x="1219" y="1631" width="85.6" height="107" fill="#b5d8fb" fill-opacity="1" stroke="#5f7f9f" stroke-width="2.4"/>
<path d="M1062.2,1528.95 L1220,1528.95" stroke="#506274" stroke-width="4.6" fill="none" stroke-linejoin="miter"/>
<path d="M1058.2,1522.65 Q1051.7,1528.95 1058.2,1535.25" stroke="#1b2a3a" stroke-width="1.4" fill="none"/>
<path d="M1067.7,1523.95 L1061.7,1528.95 L1067.7,1533.95" stroke="#1b2a3a" stroke-width="1.4" fill="none"/>
<path d="M1062.2,1549.6 L1220,1549.6" stroke="#506274" stroke-width="4.6" fill="none" stroke-linejoin="miter"/>
<path d="M1058.2,1543.3 Q1051.7,1549.6 1058.2,1555.8999999999999" stroke="#1b2a3a" stroke-width="1.4" fill="none"/>
<path d="M1067.7,1544.6 L1061.7,1549.6 L1067.7,1554.6" stroke="#1b2a3a" stroke-width="1.4" fill="none"/>
<path d="M1062.2,1570.25 L1220,1570.25" stroke="#506274" stroke-width="4.6" fill="none" stroke-linejoin="miter"/>
<path d="M1058.2,1563.95 Q1051.7,1570.25 1058.2,1576.55" stroke="#1b2a3a" stroke-width="1.4" fill="none"/>
<path d="M1067.7,1565.25 L1061.7,1570.25 L1067.7,1575.25" stroke="#1b2a3a" stroke-width="1.4" fill="none"/>
<path d="M1062.2,1590.9 L1220,1590.9" stroke="#506274" stroke-width="4.6" fill="none" stroke-linejoin="miter"/>
<path d="M1058.2,1584.6000000000001 Q1051.7,1590.9 1058.2,1597.2" stroke="#1b2a3a" stroke-width="1.4" fill="none"/>
<path d="M1067.7,1585.9 L1061.7,1590.9 L1067.7,1595.9" stroke="#1b2a3a" stroke-width="1.4" fill="none"/>
<path d="M1062.2,1652.85 L1220,1652.85" stroke="#506274" stroke-width="4.6" fill="none" stroke-linejoin="miter"/>
<path d="M1058.2,1646.55 Q1051.7,1652.85 1058.2,1659.1499999999999" stroke="#1b2a3a" stroke-width="1.4" fill="none"/>
<path d="M1067.7,1647.85 L1061.7,1652.85 L1067.7,1657.85" stroke="#1b2a3a" stroke-width="1.4" fill="none"/>
<path d="M1062.2,1673.5 L1220,1673.5" stroke="#506274" stroke-width="4.6" fill="none" stroke-linejoin="miter"/>
<path d="M1058.2,1667.2 Q1051.7,1673.5 1058.2,1679.8" stroke="#1b2a3a" stroke-width="1.4" fill="none"/>
<path d="M1067.7,1668.5 L1061.7,1673.5 L1067.7,1678.5" stroke="#1b2a3a" stroke-width="1.4" fill="none"/>
<path d="M1062.2,1694.15 L1220,1694.15" stroke="#506274" stroke-width="4.6" fill="none" stroke-linejoin="miter"/>
<path d="M1058.2,1687.8500000000001 Q1051.7,1694.15 1058.2,1700.45" stroke="#1b2a3a" stroke-width="1.4" fill="none"/>
<path d="M1067.7,1689.15 L1061.7,1694.15 L1067.7,1699.15" stroke="#1b2a3a" stroke-width="1.4" fill="none"/>
<path d="M1062.2,1714.8 L1220,1714.8" stroke="#506274" stroke-width="4.6" fill="none" stroke-linejoin="miter"/>
<path d="M1058.2,1708.5 Q1051.7,1714.8 1058.2,1721.1" stroke="#1b2a3a" stroke-width="1.4" fill="none"/>
<path d="M1067.7,1709.8 L1061.7,1714.8 L1067.7,1719.8" stroke="#1b2a3a" stroke-width="1.4" fill="none"/>
<g filter="url(#tb)">
<text x="15" y="1586.5" fill="#20242a" textLength="240" lengthAdjust="spacingAndGlyphs">МОДУЛЬ УПРАВЛЕНИЯ КОРОБКОЙ ПЕРЕД</text>
<text x="15" y="1601.5" fill="#20242a" textLength="190" lengthAdjust="spacingAndGlyphs">(ВНУТРИ КОРОБКИ ПЕРЕДАЧ)</text>
<text x="12" y="1847.5" fill="#20242a" font-size="11">G03982659 (1 из 2)</text>
<text x="277.5" y="686.7" text-anchor="end" fill="#20242a" textLength="156.5" lengthAdjust="spacingAndGlyphs">НИЗК СИГНАЛ НАПРЯЖ</text>
<text x="277.5" y="707.4" text-anchor="end" fill="#20242a" textLength="190.5" lengthAdjust="spacingAndGlyphs">РЫЧАГА СЕЛЕКТОРА ОПОРН</text>
<text x="277.5" y="728.0" text-anchor="end" fill="#20242a" textLength="218.5" lengthAdjust="spacingAndGlyphs">ДАННЫХ КЛАПАНОМ ПОЛОЖЕНИЯ</text>
<text x="277.5" y="748.6" text-anchor="end" fill="#20242a" textLength="183.5" lengthAdjust="spacingAndGlyphs">ЗАЗЕМЛЕН ЗАЗЕМЛЕН РЫЧА</text>
<text x="277.5" y="769.3" text-anchor="end" fill="#20242a" textLength="220.5" lengthAdjust="spacingAndGlyphs">ДАВЛЕНИЯ РЫЧАГА ЗАЗЕМЛЕН П</text>
<text x="277.5" y="789.9" text-anchor="end" fill="#20242a" textLength="171.5" lengthAdjust="spacingAndGlyphs">СЕЛЕКТОРА ДАВЛЕНИЯ П</text>
<text x="277.5" y="810.6" text-anchor="end" fill="#20242a" textLength="183.5" lengthAdjust="spacingAndGlyphs">НАПРЯЖ ПОЛОЖЕНИЯ ДАВЛЕ</text>
<text x="277.5" y="831.2" text-anchor="end" fill="#20242a" textLength="172.5" lengthAdjust="spacingAndGlyphs">ПОЛОЖЕНИЯ СИГНАЛ ВЫС</text>
<text x="277.5" y="934.5" text-anchor="end" fill="#20242a" textLength="27.5" lengthAdjust="spacingAndGlyphs">ЗАЗ</text>
<text x="277.5" y="975.8" text-anchor="end" fill="#20242a" textLength="222.5" lengthAdjust="spacingAndGlyphs">СИГНАЛ СЕЛЕКТОРА ВЫСОК УПР</text>
<text x="277.5" y="996.4" text-anchor="end" fill="#20242a" textLength="180.5" lengthAdjust="spacingAndGlyphs">СЕЛЕКТОРА КЛАПАНОМ ОП</text>
<text x="277.5" y="1017.1" text-anchor="end" fill="#20242a" textLength="240.5" lengthAdjust="spacingAndGlyphs">СЕЛЕКТОРА РЫЧАГА ПОЛОЖЕНИЯ КЛ</text>
<text x="277.5" y="1037.8" text-anchor="end" fill="#20242a" textLength="182.5" lengthAdjust="spacingAndGlyphs">ШИНА ЗАЗЕМЛЕН НИЗК ПИТ</text>
<text x="277.5" y="1058.4" text-anchor="end" fill="#20242a" textLength="155.5" lengthAdjust="spacingAndGlyphs">ПИТАНИЕ ОПОРН ВЫСО</text>
<text x="277.5" y="1099.7" text-anchor="end" fill="#20242a" textLength="155.5" lengthAdjust="spacingAndGlyphs">ДАВЛЕНИЯ УПРАВЛЕНИ</text>
<text x="277.5" y="1120.4" text-anchor="end" fill="#20242a" textLength="180.5" lengthAdjust="spacingAndGlyphs">ДАВЛЕНИЯ РЫЧАГА ВЫСОК</text>
<text x="277.5" y="1203.0" text-anchor="end" fill="#20242a" textLength="225.5" lengthAdjust="spacingAndGlyphs">ШИНА НИЗК ПИТАНИЕ ВЫСОК РЫЧ</text>
<text x="277.5" y="1223.6" text-anchor="end" fill="#20242a" textLength="232.5" lengthAdjust="spacingAndGlyphs">СЕЛЕКТОРА ДАННЫХ ЗАЗЕМЛЕН УП</text>
<text x="277.5" y="1244.2" text-anchor="end" fill="#20242a" textLength="177.5" lengthAdjust="spacingAndGlyphs">НИЗК СИГНАЛ ШИНА ЗАЗЕ</text>
<text x="277.5" y="1264.9" text-anchor="end" fill="#20242a" textLength="220.5" lengthAdjust="spacingAndGlyphs">ПОЛОЖЕНИЯ РЫЧАГА НИЗК НИЗК</text>
<text x="277.5" y="1285.6" text-anchor="end" fill="#20242a" textLength="167.5" lengthAdjust="spacingAndGlyphs">ШИНА ПИТАНИЕ РЫЧАГА</text>
<text x="277.5" y="1347.5" text-anchor="end" fill="#20242a" textLength="185.5" lengthAdjust="spacingAndGlyphs">МУФТЫ ШИНА РЫЧАГА ПОЛО</text>
<text x="277.5" y="1368.2" text-anchor="end" fill="#20242a" textLength="157.5" lengthAdjust="spacingAndGlyphs">ВЫСОК ПИТАНИЕ ВЫСОК</text>
<text x="277.5" y="1409.5" text-anchor="end" fill="#20242a" textLength="155.5" lengthAdjust="spacingAndGlyphs">ОПОРН ДАТЧИК ПИТАН</text>
<text x="277.5" y="1430.1" text-anchor="end" fill="#20242a" textLength="182.5" lengthAdjust="spacingAndGlyphs">ОПОРН УПРАВЛЕНИЯ СЕЛЕК</text>
<text x="277.5" y="1471.4" text-anchor="end" fill="#20242a" textLength="225.5" lengthAdjust="spacingAndGlyphs">ШИНА ПОЛОЖЕНИЯ КЛАПАНОМ ВЫС</text>
<text x="277.5" y="1492.1" text-anchor="end" fill="#20242a" textLength="217.5" lengthAdjust="spacingAndGlyphs">СИГНАЛ ДАВЛЕНИЯ НАПРЯЖ НАП</text>
<text x="277.5" y="1512.7" text-anchor="end" fill="#20242a" textLength="247.5" lengthAdjust="spacingAndGlyphs">ШИНА РЫЧАГА УПРАВЛЕНИЯ ПИТАНИЕ</text>
<text x="277.5" y="1554.0" text-anchor="end" fill="#20242a" textLength="120.5" lengthAdjust="spacingAndGlyphs">НАПРЯЖ МУФТЫ С</text>
<text class="lb" x="291" y="675.0">1</text>
<text class="lb" x="291" y="695.7">2</text>
<text class="lb" x="291" y="716.3">3</text>
<text class="lb" x="291" y="737.0">4</text>
<text class="lb" x="291" y="757.6">5</text>
<text class="lb" x="291" y="778.2">6</text>
<text class="lb" x="291" y="798.9">7</text>
<text class="lb" x="291" y="819.6">8</text>
<text class="lb" x="291" y="840.2">9</text>
<text class="lb" x="291" y="860.9">10</text>
<text class="lb" x="291" y="881.5">11</text>
<text class="lb" x="291" y="902.2">12</text>
<text class="lb" x="291" y="922.8">13</text>
<text class="lb" x="291" y="964.1">14</text>
<text class="lb" x="291" y="984.8">15</text>
<text class="lb" x="291" y="1005.4">16</text>
<text class="lb" x="291" y="1026.0">17</text>
<text class="lb" x="291" y="1046.7">18</text>
<text class="lb" x="291" y="1088.0">19</text>
<text class="lb" x="291" y="1108.7">20</text>
<text class="lb" x="291" y="1129.3">21</text>
<text class="lb" x="291" y="1150.0">22</text>
<text class="lb" x="291" y="1170.6">23</text>
<text class="lb" x="291" y="1191.2">24</text>
<text class="lb" x="291" y="1211.9">25</text>
<text class="lb" x="291" y="1232.5">26</text>
<text class="lb" x="291" y="1253.2">27</text>
<text class="lb" x="291" y="1273.9">28</text>
<text class="lb" x="291" y="1335.8">29</text>
<text class="lb" x="291" y="1356.5">30</text>
<text class="lb" x="291" y="1397.8">31</text>
<text class="lb" x="291" y="1418.4">32</text>
<text class="lb" x="291" y="1459.7">33</text>
<text class="lb" x="291" y="1480.4">34</text>
<text class="lb" x="291" y="1501.0">35</text>
<text class="lb" x="291" y="1542.3">36</text>
<text class="lb" x="336" y="675.0">ЖЁЛ-ЧЁР</text>
<text class="lb" x="439" y="675.0">5986</text>
<text class="lb" x="520" y="675.0" text-anchor="end">1</text>
<text class="lb" x="563" y="675.0">ЖЁЛ-ЧЁР</text>
<text class="lb" x="336" y="695.7">БЕЛ-ЖЁЛ</text>
<text class="lb" x="439" y="695.7">5987</text>
<text class="lb" x="520" y="695.7" text-anchor="end">8</text>
<text class="lb" x="563" y="695.7">БЕЛ-ЖЁЛ</text>
<text class="lb" x="336" y="716.3">СИН-ФИО</text>
<text class="lb" x="439" y="716.3">5988</text>
<text class="lb" x="520" y="716.3" text-anchor="end">15</text>
<text class="lb" x="563" y="716.3">СИН-ФИО</text>
<text class="lb" x="336" y="737.0">ФИО-БЕЛ/ЧЁ</text>
<text class="lb" x="439" y="737.0">5989</text>
<text class="lb" x="520" y="737.0" text-anchor="end">2</text>
<text class="lb" x="563" y="737.0">ФИО-БЕЛ/ЧЁ</text>
<text class="lb" x="336" y="757.6">ЗЕЛ-СЕР</text>
<text class="lb" x="439" y="757.6">5990</text>
<text class="lb" x="520" y="757.6" text-anchor="end">9</text>
<text class="lb" x="563" y="757.6">ЗЕЛ-СЕР</text>
<text class="lb" x="336" y="778.2">КОР-БЕЛ</text>
<text class="lb" x="439" y="778.2">5991</text>
<text class="lb" x="520" y="778.2" text-anchor="end">16</text>
<text class="lb" x="563" y="778.2">КОР-БЕЛ</text>
<text class="lb" x="336" y="798.9">СЕР-ЖЁЛ</text>
<text class="lb" x="439" y="798.9">5992</text>
<text class="lb" x="520" y="798.9" text-anchor="end">3</text>
<text class="lb" x="563" y="798.9">СЕР-ЖЁЛ</text>
<text class="lb" x="336" y="819.6">ЗЕЛ-БЕЛ</text>
<text class="lb" x="439" y="819.6">5993</text>
<text class="lb" x="520" y="819.6" text-anchor="end">10</text>
<text class="lb" x="563" y="819.6">ЗЕЛ-БЕЛ</text>
<text x="522" y="843" fill="#20242a">X175</text>
<text class="lb" x="336" y="922.8">ЧЁР</text>
<text class="lb" x="439" y="922.8">450</text>
<text class="lb" x="541.5" y="922.8">ЧЁР</text>
<text x="486" y="951" fill="#20242a">J301</text>
<text x="598.5" y="934.5" fill="#20242a">G104</text>
<text x="597" y="902.5" fill="#20242a">(НА ЗАЖИМНОЙ</text>
<text x="597" y="917.5" fill="#20242a">КОЛОДКЕ КОРОБ)</text>
<text class="lb" x="336" y="964.1">ФИО/СИН</text>
<text class="lb" x="439" y="964.1">5380</text>
<text class="lb" x="336" y="984.8">БЕЛ-СЕР</text>
<text class="lb" x="439" y="984.8">771</text>
<text class="lb" x="336" y="1005.4">ЗЕЛ-БЕЛ</text>
<text class="lb" x="439" y="1005.4">5994</text>
<text class="lb" x="336" y="1026.0">ЧЁР</text>
<text class="lb" x="439" y="1026.0">6105</text>
<text class="lb" x="336" y="1046.7">СИН-БЕЛ</text>
<text class="lb" x="439" y="1046.7">6104</text>
<text class="lb" x="616" y="964.1" text-anchor="end">5</text>
<text class="lb" x="627" y="964.1">ФИО/СИН</text>
<text class="lb" x="616" y="984.8" text-anchor="end">6</text>
<text class="lb" x="616" y="1005.4" text-anchor="end">7</text>
<text class="lb" x="627" y="1005.4">ЗЕЛ-БЕЛ</text>
<text x="606" y="1027" fill="#20242a">X110</text>
<text x="514.5" y="1033.8" fill="#20242a">Q77</text>
<text x="514.5" y="1049.8" fill="#20242a">Клапан</text>
<text class="lb" x="336" y="1088.0">СИН</text>
<text class="lb" x="439" y="1088.0">6106</text>
<text class="lb" x="336" y="1108.7">ЧЁР</text>
<text class="lb" x="439" y="1108.7">6107</text>
<text x="514.5" y="1095.8" fill="#20242a">Q77</text>
<text x="514.5" y="1111.8" fill="#20242a">Клапан</text>
<text class="lb" x="336" y="1191.2">СИН-ФИО</text>
<text class="lb" x="439" y="1191.2">5995</text>
<text class="lb" x="520" y="1191.2" text-anchor="end">16</text>
<text class="lb" x="557" y="1191.2">СИН-ФИО</text>
<text class="lb" x="336" y="1211.9">ЖЁЛ-БЕЛ</text>
<text class="lb" x="439" y="1211.9">5996</text>
<text class="lb" x="520" y="1211.9" text-anchor="end">3</text>
<text class="lb" x="557" y="1211.9">ЖЁЛ-БЕЛ</text>
<text class="lb" x="336" y="1232.5">ФИО-РОЗ/ЧЁ</text>
<text class="lb" x="439" y="1232.5">5997</text>
<text class="lb" x="520" y="1232.5" text-anchor="end">10</text>
<text class="lb" x="557" y="1232.5">ФИО-РОЗ/ЧЁ</text>
<text class="lb" x="336" y="1253.2">РОЗ-БЕЛ</text>
<text class="lb" x="439" y="1253.2">5998</text>
<text class="lb" x="520" y="1253.2" text-anchor="end">17</text>
<text class="lb" x="557" y="1253.2">РОЗ-БЕЛ</text>
<text class="lb" x="336" y="1273.9">ЧЁР</text>
<text class="lb" x="439" y="1273.9">5999</text>
<text class="lb" x="520" y="1273.9" text-anchor="end">4</text>
<text class="lb" x="557" y="1273.9">ЧЁР</text>
<text x="522" y="1291.5" fill="#20242a">X175</text>
<text class="lb" x="336" y="1335.8">ЧЁР</text>
<text class="lb" x="439" y="1335.8">6109</text>
<text class="lb" x="336" y="1356.5">СИН-БЕЛ</text>
<text class="lb" x="439" y="1356.5">6108</text>
<text x="514.5" y="1343.6" fill="#20242a">Q77</text>
<text x="514.5" y="1359.6" fill="#20242a">Клапан</text>
<text class="lb" x="336" y="1397.8">СИН</text>
<text class="lb" x="439" y="1397.8">6110</text>
<text class="lb" x="336" y="1418.4">ЧЁР</text>
<text class="lb" x="439" y="1418.4">6111</text>
<text x="514.5" y="1405.5" fill="#20242a">Q77</text>
<text x="514.5" y="1421.5" fill="#20242a">Клапан</text>
<text class="lb" x="336" y="1459.7">ЗЕЛ-БЕЛ</text>
<text class="lb" x="439" y="1459.7">6112</text>
<text class="lb" x="336" y="1480.4">ФИО/СИН</text>
<text class="lb" x="439" y="1480.4">5380</text>
<text class="lb" x="336" y="1501.0">РОЗ-ЧЁР</text>
<text class="lb" x="439" y="1501.0">6113</text>
<text x="514.5" y="1464.0" fill="#20242a">Q77</text>
<text x="514.5" y="1480.0" fill="#20242a">Клапан</text>
<text x="514.5" y="1501.3" fill="#20242a">Q77</text>
<text x="514.5" y="1517.3" fill="#20242a">Клапан</text>
<text class="lb" x="336" y="1542.3">КРА-ЗЕЛ</text>
<text class="lb" x="439" y="1542.3">540</text>
<text x="1411" y="892.5" text-anchor="end" fill="#20242a">S3 СБ</text>
<text x="1425" y="922.5" text-anchor="end" fill="#20242a" textLength="189" lengthAdjust="spacingAndGlyphs">ВНУТР ПЕРЕКЛЮЧ РЕЖИМ КПП</text>
<text x="1425.5" y="939.5" text-anchor="end" fill="#20242a" textLength="159" lengthAdjust="spacingAndGlyphs">(РЫЧАГ ПЕРЕКЛ ПЕРЕД)</text>
<text x="1443" y="1458.5" text-anchor="end" fill="#20242a" textLength="241" lengthAdjust="spacingAndGlyphs">РЫЧАГ ПЕРЕКЛ ПЕРЕДАЧ В СБОРЕ С БЛ</text>
<text x="1474" y="1767.5" text-anchor="end" fill="#20242a">БЛОК УПРАВЛЕНИЯ КПП</text>
<text x="1474" y="1782" text-anchor="end" fill="#20242a">(ЦЕНТР КОНСОЛ)</text>
<text class="lb" x="1018" y="1005.4" text-anchor="end">ФИО-БЕЛ/ЧЁ</text>
<text class="lb" x="1043.6" y="1005.4" text-anchor="end">15</text>
<text class="lb" x="1148" y="1005.4" text-anchor="end">ФИО-БЕЛ/ЧЁ</text>
<text class="lb" x="1173.4" y="1005.4" text-anchor="end">3</text>
<text class="lb" x="1018" y="1046.7" text-anchor="end">БЕЛ-СЕР</text>
<text class="lb" x="1043.6" y="1046.7" text-anchor="end">11</text>
<text class="lb" x="1148" y="1046.7" text-anchor="end">БЕЛ-СЕР</text>
<text class="lb" x="1173.4" y="1046.7" text-anchor="end">8</text>
<text class="lb" x="1018" y="1108.7" text-anchor="end">ЗЕЛ-БЕЛ</text>
<text class="lb" x="1043.6" y="1108.7" text-anchor="end">16</text>
<text class="lb" x="1148" y="1108.7" text-anchor="end">ЗЕЛ-БЕЛ</text>
<text class="lb" x="1173.4" y="1108.7" text-anchor="end">2</text>
<text class="lb" x="1018" y="1150.0" text-anchor="end">ЗЕЛ-БЕЛ</text>
<text class="lb" x="1043.6" y="1150.0" text-anchor="end">12</text>
<text class="lb" x="1148" y="1150.0" text-anchor="end">ЗЕЛ-БЕЛ</text>
<text class="lb" x="1173.4" y="1150.0" text-anchor="end">7</text>
<text class="lb" x="1018" y="1232.5" text-anchor="end">КОР-БЕЛ</text>
<text class="lb" x="1043.6" y="1232.5" text-anchor="end">18</text>
<text class="lb" x="1148" y="1232.5" text-anchor="end">КОР-БЕЛ</text>
<text class="lb" x="1173.4" y="1232.5" text-anchor="end">4</text>
<text class="lb" x="1018" y="1273.9" text-anchor="end">ЧЁР</text>
<text class="lb" x="1043.6" y="1273.9" text-anchor="end">14</text>
<text class="lb" x="1148" y="1273.9" text-anchor="end">ЧЁР</text>
<text class="lb" x="1173.4" y="1273.9" text-anchor="end">10</text>
<text class="lb" x="1018" y="1356.5" text-anchor="end">СЕР-ЖЁЛ</text>
<text class="lb" x="1043.6" y="1356.5" text-anchor="end">13</text>
<text class="lb" x="1148" y="1356.5" text-anchor="end">СЕР-ЖЁЛ</text>
<text class="lb" x="1173.4" y="1356.5" text-anchor="end">5</text>
<text class="lb" x="1018" y="1397.8" text-anchor="end">ФИО-РОЗ</text>
<text class="lb" x="1043.6" y="1397.8" text-anchor="end">5</text>
<text class="lb" x="1148" y="1397.8" text-anchor="end">ФИО-РОЗ</text>
<text class="lb" x="1173.4" y="1397.8" text-anchor="end">1</text>
<text x="1298" y="968.2" text-anchor="middle" fill="#20242a" font-size="9">РАЗОМК</text>
<text x="1300" y="1061.5" text-anchor="middle" fill="#20242a" font-size="9">ЗАМКН</text>
<text x="1298" y="1071.5" text-anchor="middle" fill="#20242a" font-size="9">РАЗОМК</text>
<text x="1300" y="1164.8" text-anchor="middle" fill="#20242a" font-size="9">ЗАМКН</text>
<text x="1298" y="1195.3" text-anchor="middle" fill="#20242a" font-size="9">РАЗОМК</text>
<text x="1300" y="1288.7" text-anchor="middle" fill="#20242a" font-size="9">ЗАМКН</text>
<text x="1298" y="1319.2" text-anchor="middle" fill="#20242a" font-size="9">РАЗОМК</text>
<text x="1300" y="1412.5" text-anchor="middle" fill="#20242a" font-size="9">ЗАМКН</text>
<text class="lb" x="1018" y="1521.7" text-anchor="end">ЖЁЛ-ЧЁР</text>
<text class="lb" x="1043.6" y="1521.7" text-anchor="end">4</text>
<text x="1142.5" y="1521.7" text-anchor="end" fill="#20242a" textLength="44" lengthAdjust="spacingAndGlyphs" font-weight="bold">ЖЁЛ-ЧЁ</text>
<text class="lb" x="1018" y="1542.3" text-anchor="end">БЕЛ-ЖЁЛ</text>
<text class="lb" x="1043.6" y="1542.3" text-anchor="end">3</text>
<text x="1142.5" y="1542.3" text-anchor="end" fill="#20242a" textLength="44" lengthAdjust="spacingAndGlyphs" font-weight="bold">БЕЛ-ЖЁ</text>
<text class="lb" x="1018" y="1563.0" text-anchor="end">ЗЕЛ-СЕР</text>
<text class="lb" x="1043.6" y="1563.0" text-anchor="end">2</text>
<text x="1142.5" y="1563.0" text-anchor="end" fill="#20242a" textLength="44" lengthAdjust="spacingAndGlyphs" font-weight="bold">ЗЕЛ-СЕ</text>
<text class="lb" x="1018" y="1583.6" text-anchor="end">ФИО/СИН</text>
<text class="lb" x="1043.6" y="1583.6" text-anchor="end">1</text>
<text x="1142.5" y="1583.6" text-anchor="end" fill="#20242a" textLength="44" lengthAdjust="spacingAndGlyphs" font-weight="bold">ФИО/СИ</text>
<text class="lb" x="1018" y="1645.5" text-anchor="end">СИН-ФИО</text>
<text class="lb" x="1043.6" y="1645.5" text-anchor="end">8</text>
<text x="1142.5" y="1645.5" text-anchor="end" fill="#20242a" textLength="44" lengthAdjust="spacingAndGlyphs" font-weight="bold">СИН-ФИ</text>
<text class="lb" x="1018" y="1666.2" text-anchor="end">СИН-ФИО</text>
<text class="lb" x="1043.6" y="1666.2" text-anchor="end">7</text>
<text x="1142.5" y="1666.2" text-anchor="end" fill="#20242a" textLength="44" lengthAdjust="spacingAndGlyphs" font-weight="bold">СИН-ФИ</text>
<text class="lb" x="1018" y="1686.9" text-anchor="end">ЖЁЛ-БЕЛ</text>
<text class="lb" x="1043.6" y="1686.9" text-anchor="end">6</text>
<text x="1142.5" y="1686.9" text-anchor="end" fill="#20242a" textLength="44" lengthAdjust="spacingAndGlyphs" font-weight="bold">ЖЁЛ-БЕ</text>
<text class="lb" x="1018" y="1707.5" text-anchor="end">РОЗ-БЕЛ/ЧЁР</text>
<text class="lb" x="1043.6" y="1707.5" text-anchor="end">5</text>
<text x="1142.5" y="1707.5" text-anchor="end" fill="#20242a" textLength="44" lengthAdjust="spacingAndGlyphs" font-weight="bold">РОЗ-БЕ</text>
</g>
</g>
</defs>
<rect x="0" y="0" width="1500" height="1861" fill="#fff"/>
<g clip-path="url(#ct)">
<use href="#all"/>
<path d="M0,0H1500V557.6H1497.3V2.2H2.9V557.6H0Z" fill="#000"/>
</g>
<g clip-path="url(#cb)">
<g filter="url(#bl)">
<rect x="-60" y="-60" width="1620" height="1981" fill="#fff"/>
<g transform="translate(0.8,0)"><use href="#all" stroke-opacity="0.8"/></g>
<rect x="-60" y="0" width="64" height="1861" fill="#000" opacity="0.55"/>
<rect x="1497" y="0" width="60" height="1861" fill="#000" opacity="0.55"/>
<rect x="-60" y="1856" width="1620" height="60" fill="#000" opacity="0.55"/>
</g>
</g>
<path d="M603,726 L638.5,726 L633.2,735.6 L603,735.6 Z" fill="#b9b5cc" opacity="0.9"/>
</svg>
</body>
</html>
